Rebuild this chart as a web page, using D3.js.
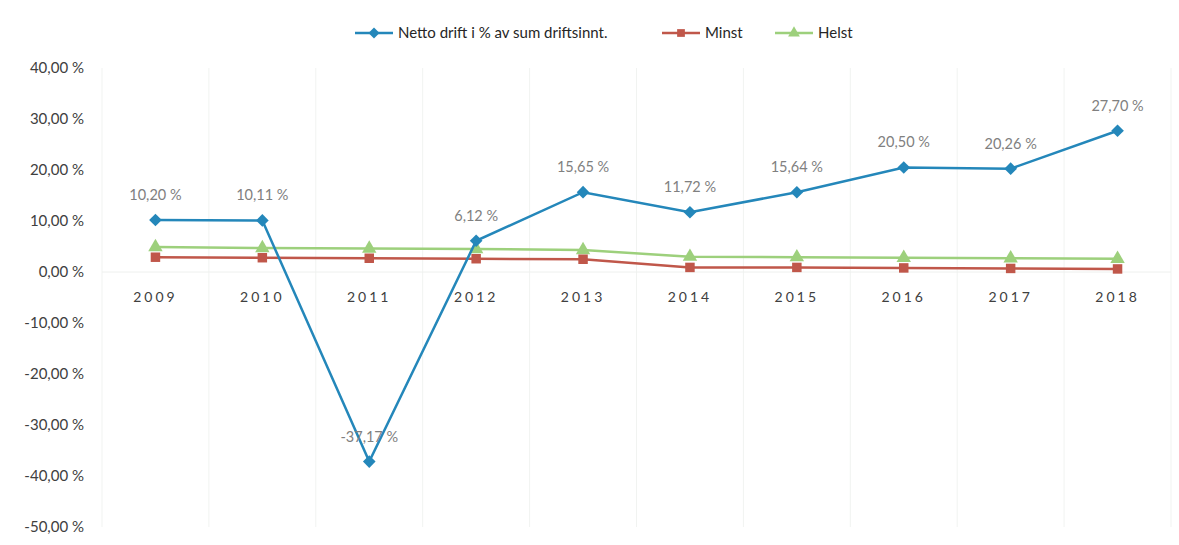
<!DOCTYPE html>
<html>
<head>
<meta charset="utf-8">
<script src="https://cdn.jsdelivr.net/npm/d3@7"></script>
<style>
  body { margin: 0; background: #fff; }
  svg { display: block; font-family: Lato, "Open Sans", sans-serif; }
</style>
</head>
<body>
<svg id="chart"></svg>
<script>
// data
const years = ["2009", "2010", "2011", "2012", "2013", "2014", "2015", "2016", "2017", "2018"];
const netto = [10.20, 10.11, -37.17, 6.12, 15.65, 11.72, 15.64, 20.50, 20.26, 27.70];
const minst = [2.9, 2.8, 2.7, 2.6, 2.5, 0.9, 0.9, 0.8, 0.7, 0.6];
const helst = [4.9, 4.7, 4.6, 4.5, 4.3, 3.0, 2.9, 2.8, 2.7, 2.6];
const yTicks = [40, 30, 20, 10, 0, -10, -20, -30, -40, -50];

const series = [
    { name: "Netto drift i % av sum driftsinnt.", values: netto, color: "#2487ba", shape: "diamond", labels: true },
    { name: "Minst", values: minst, color: "#c0574a", shape: "square", labels: false },
    { name: "Helst", values: helst, color: "#9dd07c", shape: "triangle", labels: false }
];

const width = 1179, height = 545;
const margin = { top: 68, right: 8, bottom: 18, left: 102 };

const svg = d3.select("#chart")
    .attr("width", width)
    .attr("height", height);

const x = d3.scaleBand()
    .domain(years)
    .range([margin.left, width - margin.right]);

const y = d3.scaleLinear()
    .domain([-50, 40])
    .range([height - margin.bottom, margin.top]);

// Norwegian style: comma decimal, plain hyphen for minus
const fmt = v => d3.format(".2f")(v).replace(".", ",").replace("\u2212", "-") + " %";

// marker shapes
const symbolFor = (shape, size) => {
    if (shape === "diamond") return d3.symbol().type(d3.symbolSquare).size(size)();
    if (shape === "square") return d3.symbol().type(d3.symbolSquare).size(size)();
    return d3.symbol().type(d3.symbolTriangle).size(size)();
};
const rotFor = shape => shape === "diamond" ? " rotate(45)" : "";

// vertical gridlines at category boundaries
svg.append("g")
    .selectAll("line")
    .data(years.concat(["end"]))
    .enter().append("line")
    .attr("x1", (d, i) => i < years.length ? x(d) : x.range()[1])
    .attr("x2", (d, i) => i < years.length ? x(d) : x.range()[1])
    .attr("y1", y(40))
    .attr("y2", y(-50))
    .attr("stroke", "#f1f3f1")
    .attr("stroke-width", 1);

// zero line
svg.append("line")
    .attr("x1", x.range()[0])
    .attr("x2", x.range()[1])
    .attr("y1", y(0))
    .attr("y2", y(0))
    .attr("stroke", "#eef0ee");

// Y axis labels
svg.append("g")
    .selectAll("text")
    .data(yTicks)
    .enter().append("text")
    .attr("x", 84)
    .attr("y", d => y(d))
    .attr("dy", "0.35em")
    .attr("text-anchor", "end")
    .attr("fill", "#404040")
    .style("font-size", "15px")
    .text(d => fmt(d));

// X labels
svg.append("g")
    .selectAll("text")
    .data(years)
    .enter().append("text")
    .attr("x", d => x(d) + x.bandwidth() / 2)
    .attr("y", y(0) + 30)
    .attr("text-anchor", "middle")
    .attr("fill", "#404040")
    .style("font-size", "14px")
    .style("letter-spacing", "3px")
    .text(d => d);

const line = d3.line()
    .x((d, i) => x(years[i]) + x.bandwidth() / 2)
    .y(d => y(d));

// draw lower series first so netto sits on top
series.slice().reverse().forEach(s => {
    svg.append("path")
        .datum(s.values)
        .attr("fill", "none")
        .attr("stroke", s.color)
        .attr("stroke-width", 2.5)
        .attr("d", line);

    svg.append("g")
        .selectAll("path")
        .data(s.values)
        .enter().append("path")
        .attr("transform", (d, i) => `translate(${x(years[i]) + x.bandwidth() / 2},${y(d)})` + rotFor(s.shape))
        .attr("d", symbolFor(s.shape, s.shape === "diamond" ? 80 : 90))
        .attr("fill", s.color);

    if (s.labels) {
        svg.append("g")
            .selectAll("text")
            .data(s.values)
            .enter().append("text")
            .attr("x", (d, i) => x(years[i]) + x.bandwidth() / 2)
            .attr("y", d => y(d) - 20)
            .attr("text-anchor", "middle")
            .attr("fill", "#808080")
            .style("font-size", "14.5px")
            .text(d => fmt(d));
    }
});

// legend
const legendItems = [
    { s: series[0], x: 355 },
    { s: series[1], x: 662 },
    { s: series[2], x: 775 }
];
const lg = svg.append("g");
legendItems.forEach(item => {
    const g = lg.append("g").attr("transform", `translate(${item.x},33)`);
    g.append("line")
        .attr("x1", 0).attr("x2", 38)
        .attr("stroke", item.s.color)
        .attr("stroke-width", 2.5);
    g.append("path")
        .attr("transform", "translate(19,0)" + rotFor(item.s.shape))
        .attr("d", symbolFor(item.s.shape, 60))
        .attr("fill", item.s.color);
    g.append("text")
        .attr("x", 43)
        .attr("dy", "0.35em")
        .attr("fill", "#262626")
        .style("font-size", "15px")
        .text(item.s.name);
});
</script>
</body>
</html>
